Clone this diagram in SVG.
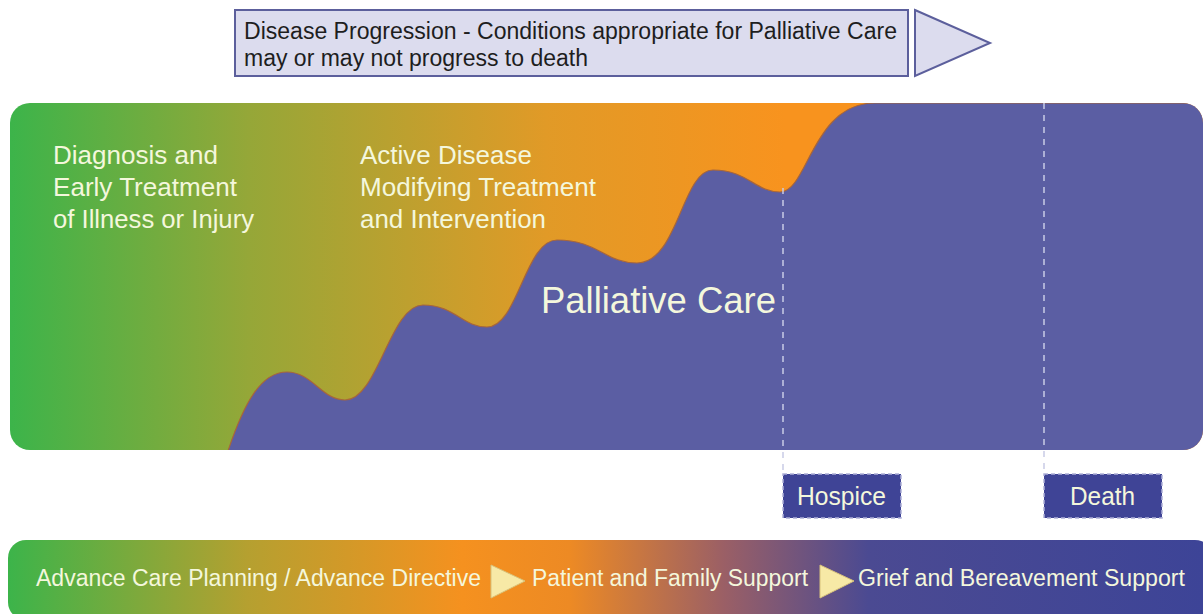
<svg xmlns="http://www.w3.org/2000/svg" width="1203" height="614" viewBox="0 0 1203 614">
<defs>
<linearGradient id="gMain" gradientUnits="userSpaceOnUse" x1="10" y1="0" x2="1203" y2="0">
<stop offset="0" stop-color="#3cb44a"/>
<stop offset="0.2" stop-color="#95a738"/>
<stop offset="0.45" stop-color="#e19a27"/>
<stop offset="0.65" stop-color="#f8931e"/>
<stop offset="1" stop-color="#f8931e"/>
</linearGradient>
<linearGradient id="gBar" gradientUnits="userSpaceOnUse" x1="8" y1="0" x2="1203" y2="0">
<stop offset="0" stop-color="#3cb44a"/>
<stop offset="0.2" stop-color="#b5a030"/>
<stop offset="0.38" stop-color="#f5911f"/>
<stop offset="0.47" stop-color="#ed8a24"/>
<stop offset="0.6" stop-color="#9a5f66"/>
<stop offset="0.72" stop-color="#4b4a92"/>
<stop offset="1" stop-color="#3d4497"/>
</linearGradient>
<clipPath id="cMain"><rect x="10" y="103" width="1193" height="347" rx="20"/></clipPath>
<style>
.t{font-family:"Liberation Sans",Arial,sans-serif;fill:#f4f7dc}
.dk{font-family:"Liberation Sans",Arial,sans-serif;fill:#1e1e1e;font-size:23px}
.dash{stroke:#c9cbe6;stroke-width:1.5;stroke-dasharray:6,6;fill:none}
.tag{fill:#3f4496;stroke:#aeb0d8;stroke-width:1.5;stroke-dasharray:4,3}
.tri{fill:#f7e9a6;stroke:#d8c27a;stroke-width:1}
</style>
</defs>
<g id="progression">
<rect x="235" y="10" width="673" height="66" fill="#dcdcee" stroke="#5c5f9c" stroke-width="2"/>
<polygon points="915,10 990,43 915,76" fill="#dcdcee" stroke="#5c5f9c" stroke-width="2"/>
<text class="dk" x="244" y="39" textLength="653" lengthAdjust="spacingAndGlyphs">Disease Progression - Conditions appropriate for Palliative Care</text>
<text class="dk" x="244" y="66" textLength="344" lengthAdjust="spacingAndGlyphs">may or may not progress to death</text>
</g>
<g id="main">
<rect x="10" y="103" width="1193" height="347" rx="20" fill="url(#gMain)"/>
<path clip-path="url(#cMain)" d="M228,451 C245,400 262,372 287,372 C312,372 322,400 345,400 C378,400 390,305 423,305 C455,305 462,327 487,327 C518,327 525,240 557,240 C598,240 605,263 637,263 C678,263 682,170 713,170 C748,170 755,192 780,192 C808,192 812,103 875,103 L1210,103 L1210,460 L228,460 Z" fill="#5b5ea3" stroke="#a8663a" stroke-width="1.2"/>
<text class="t" font-size="26" x="53" y="164" textLength="165" lengthAdjust="spacingAndGlyphs">Diagnosis and</text>
<text class="t" font-size="26" x="53" y="196" textLength="184" lengthAdjust="spacingAndGlyphs">Early Treatment</text>
<text class="t" font-size="26" x="53" y="228" textLength="201" lengthAdjust="spacingAndGlyphs">of Illness or Injury</text>
<text class="t" font-size="26" x="360" y="164" textLength="172" lengthAdjust="spacingAndGlyphs">Active Disease</text>
<text class="t" font-size="26" x="360" y="196" textLength="236" lengthAdjust="spacingAndGlyphs">Modifying Treatment</text>
<text class="t" font-size="26" x="360" y="228" textLength="186" lengthAdjust="spacingAndGlyphs">and Intervention</text>
<text class="t" font-size="37" x="541" y="313" textLength="235" lengthAdjust="spacingAndGlyphs">Palliative Care</text>
</g>
<g id="connectors">
<line class="dash" x1="783" y1="188" x2="783" y2="475"/>
<line class="dash" x1="1044" y1="103" x2="1044" y2="475"/>
</g>
<g id="hospice">
<rect class="tag" x="783" y="474" width="118" height="44"/>
<text class="t" font-size="25" x="797" y="505" textLength="89" lengthAdjust="spacingAndGlyphs">Hospice</text>
</g>
<g id="death">
<rect class="tag" x="1044" y="474" width="118" height="44"/>
<text class="t" font-size="25" x="1070" y="505" textLength="65" lengthAdjust="spacingAndGlyphs">Death</text>
</g>
<g id="bar">
<rect x="8" y="540" width="1205" height="80" rx="18" fill="url(#gBar)"/>
<text class="t" font-size="23" x="36" y="586" textLength="445" lengthAdjust="spacingAndGlyphs">Advance Care Planning / Advance Directive</text>
<polygon class="tri" points="491,565 525,581 491,598"/>
<text class="t" font-size="23" x="532" y="586" textLength="276" lengthAdjust="spacingAndGlyphs">Patient and Family Support</text>
<polygon class="tri" points="820,565 854,581 820,598"/>
<text class="t" font-size="23" x="858" y="586" textLength="327" lengthAdjust="spacingAndGlyphs">Grief and Bereavement Support</text>
</g>
</svg>
